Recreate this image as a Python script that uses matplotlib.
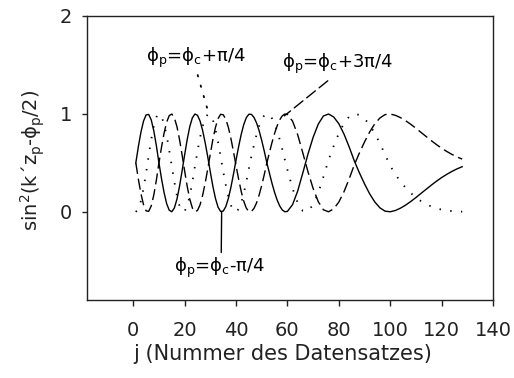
import matplotlib
matplotlib.use("Agg")
import matplotlib.pyplot as plt

plt.rcParams['font.family'] = ['DejaVu Sans']
plt.rcParams['mathtext.fontset'] = 'dejavusans'

# data set number
j = list(range(1, 61)) + list(range(62, 129, 2))

# phi_p = phi_c - pi/4  (solid)
solid = [0.500, 0.668, 0.815, 0.927, 0.990, 0.995, 0.939, 0.827, 0.675, 0.500,
         0.339, 0.196, 0.084, 0.017, 0.001, 0.040, 0.129, 0.260, 0.417, 0.583,
         0.740, 0.871, 0.960, 0.999, 0.986, 0.928, 0.831, 0.705, 0.560, 0.406,
         0.259, 0.136, 0.048, 0.004, 0.008, 0.053, 0.136, 0.250, 0.385, 0.528,
         0.665, 0.790, 0.891, 0.962, 0.997, 0.995, 0.964, 0.907, 0.827, 0.729,
         0.618, 0.500, 0.394, 0.291, 0.199, 0.121, 0.060, 0.019, 0.001, 0.005,
         0.074, 0.213, 0.399, 0.591, 0.761, 0.896, 0.979, 0.999, 0.969, 0.900,
         0.795, 0.665, 0.522, 0.399, 0.286, 0.184, 0.101, 0.041, 0.007, 0.001,
         0.014, 0.038, 0.069, 0.106, 0.146, 0.189, 0.231, 0.273, 0.313, 0.350,
         0.383, 0.413, 0.439, 0.461]

# phi_p = phi_c + 3pi/4  (dashed)
dashed = [0.500, 0.332, 0.185, 0.073, 0.010, 0.005, 0.061, 0.173, 0.325, 0.500,
          0.661, 0.804, 0.916, 0.983, 0.999, 0.960, 0.871, 0.740, 0.583, 0.417,
          0.260, 0.129, 0.040, 0.001, 0.014, 0.072, 0.169, 0.295, 0.440, 0.594,
          0.741, 0.864, 0.952, 0.996, 0.992, 0.947, 0.864, 0.750, 0.615, 0.472,
          0.335, 0.210, 0.109, 0.038, 0.003, 0.005, 0.036, 0.093, 0.173, 0.271,
          0.382, 0.500, 0.606, 0.709, 0.801, 0.879, 0.940, 0.981, 0.999, 0.995,
          0.926, 0.787, 0.601, 0.409, 0.239, 0.104, 0.021, 0.001, 0.031, 0.100,
          0.205, 0.335, 0.478, 0.601, 0.714, 0.816, 0.899, 0.959, 0.993, 0.999,
          0.986, 0.962, 0.931, 0.894, 0.854, 0.811, 0.769, 0.727, 0.687, 0.650,
          0.617, 0.587, 0.561, 0.539]

# phi_p = phi_c + pi/4  (dotted)
dotted = [0.000, 0.029, 0.112, 0.240, 0.399, 0.571, 0.739, 0.878, 0.968, 1.000,
          0.974, 0.897, 0.778, 0.629, 0.467, 0.305, 0.165, 0.061, 0.007, 0.007,
          0.061, 0.165, 0.305, 0.467, 0.619, 0.759, 0.874, 0.956, 0.996, 0.991,
          0.938, 0.842, 0.713, 0.563, 0.413, 0.275, 0.157, 0.067, 0.013, 0.001,
          0.028, 0.092, 0.188, 0.309, 0.444, 0.571, 0.686, 0.790, 0.878, 0.944,
          0.986, 1.000, 0.989, 0.954, 0.899, 0.826, 0.738, 0.638, 0.532, 0.429,
          0.238, 0.091, 0.010, 0.008, 0.073, 0.194, 0.357, 0.530, 0.673, 0.801,
          0.904, 0.972, 1.000, 0.990, 0.952, 0.888, 0.802, 0.699, 0.584, 0.470,
          0.383, 0.309, 0.246, 0.192, 0.146, 0.109, 0.078, 0.055, 0.036, 0.023,
          0.014, 0.008, 0.004, 0.002]

x_ticks = [0, 20, 40, 60, 80, 100, 120, 140]
y_ticks = [0, 1, 2]

lab_dot = r"$\mathrm{\phi_p}$=$\mathrm{\phi_c}$+$\mathrm{\pi}$/4"
lab_dash = r"$\mathrm{\phi_p}$=$\mathrm{\phi_c}$+3$\mathrm{\pi}$/4"
lab_solid = r"$\mathrm{\phi_p}$=$\mathrm{\phi_c}$-$\mathrm{\pi}$/4"

fig = plt.figure(figsize=(5.14, 3.78), dpi=100)
ax = fig.add_axes([87/514, 1 - 300/378, 406/514, 284/378])

ax.plot(j, solid, color='k', lw=1.0)
ax.plot(j, dashed, color='k', lw=1.0, linestyle=(0, (8, 3.5)))
ax.plot(j, dotted, color='k', lw=1.3, linestyle=(0, (0.8, 5.2)))

ax.set_xlim(-18, 140)
ax.set_ylim(-0.9, 2)
ax.set_xticks(x_ticks)
ax.set_yticks(y_ticks)
ax.tick_params(axis='x', direction='out', length=4, width=1, pad=11, labelsize=14, colors='#222222')
ax.tick_params(axis='y', direction='out', length=3.5, width=1, pad=7, labelsize=14, colors='#222222')
for s in ax.spines.values():
    s.set_linewidth(1.0)
    s.set_color('#222222')

fs = 13
ax.annotate(lab_dot, xy=(29.4, 1.0), xytext=(5.1, 1.534), textcoords='data',
            ha='left', va='baseline', fontsize=fs,
            arrowprops=dict(arrowstyle='-', color='k', lw=1.3, linestyle=(0, (0.8, 5.2)),
                            shrinkA=2, shrinkB=0, relpos=(0.5, 0)))
ax.annotate(lab_dash, xy=(58.8, 0.98), xytext=(58.0, 1.466), textcoords='data',
            ha='left', va='baseline', fontsize=fs,
            arrowprops=dict(arrowstyle='-', color='k', lw=1.0, linestyle=(0, (8, 3.5)),
                            shrinkA=2, shrinkB=0, relpos=(0.46, 0)))
ax.annotate(lab_solid, xy=(34.4, 0.0), xytext=(33.6, -0.609), textcoords='data',
            ha='center', va='baseline', fontsize=fs,
            arrowprops=dict(arrowstyle='-', color='k', lw=1.0,
                            shrinkA=0, shrinkB=0, relpos=(0.518, 1)))

fig.text(282.5/514, 1 - 354/378, "j (Nummer des Datensatzes)", ha='center', va='center',
         fontsize=15, color='#222222')
fig.text(33/514, 1 - 160/378, r"sin$^2$(k´z$_\mathrm{p}$-$\mathrm{\phi_p}$/2)", rotation=90,
         ha='center', va='center', fontsize=14, color='#222222')

fig.savefig("out.png", dpi=100)
